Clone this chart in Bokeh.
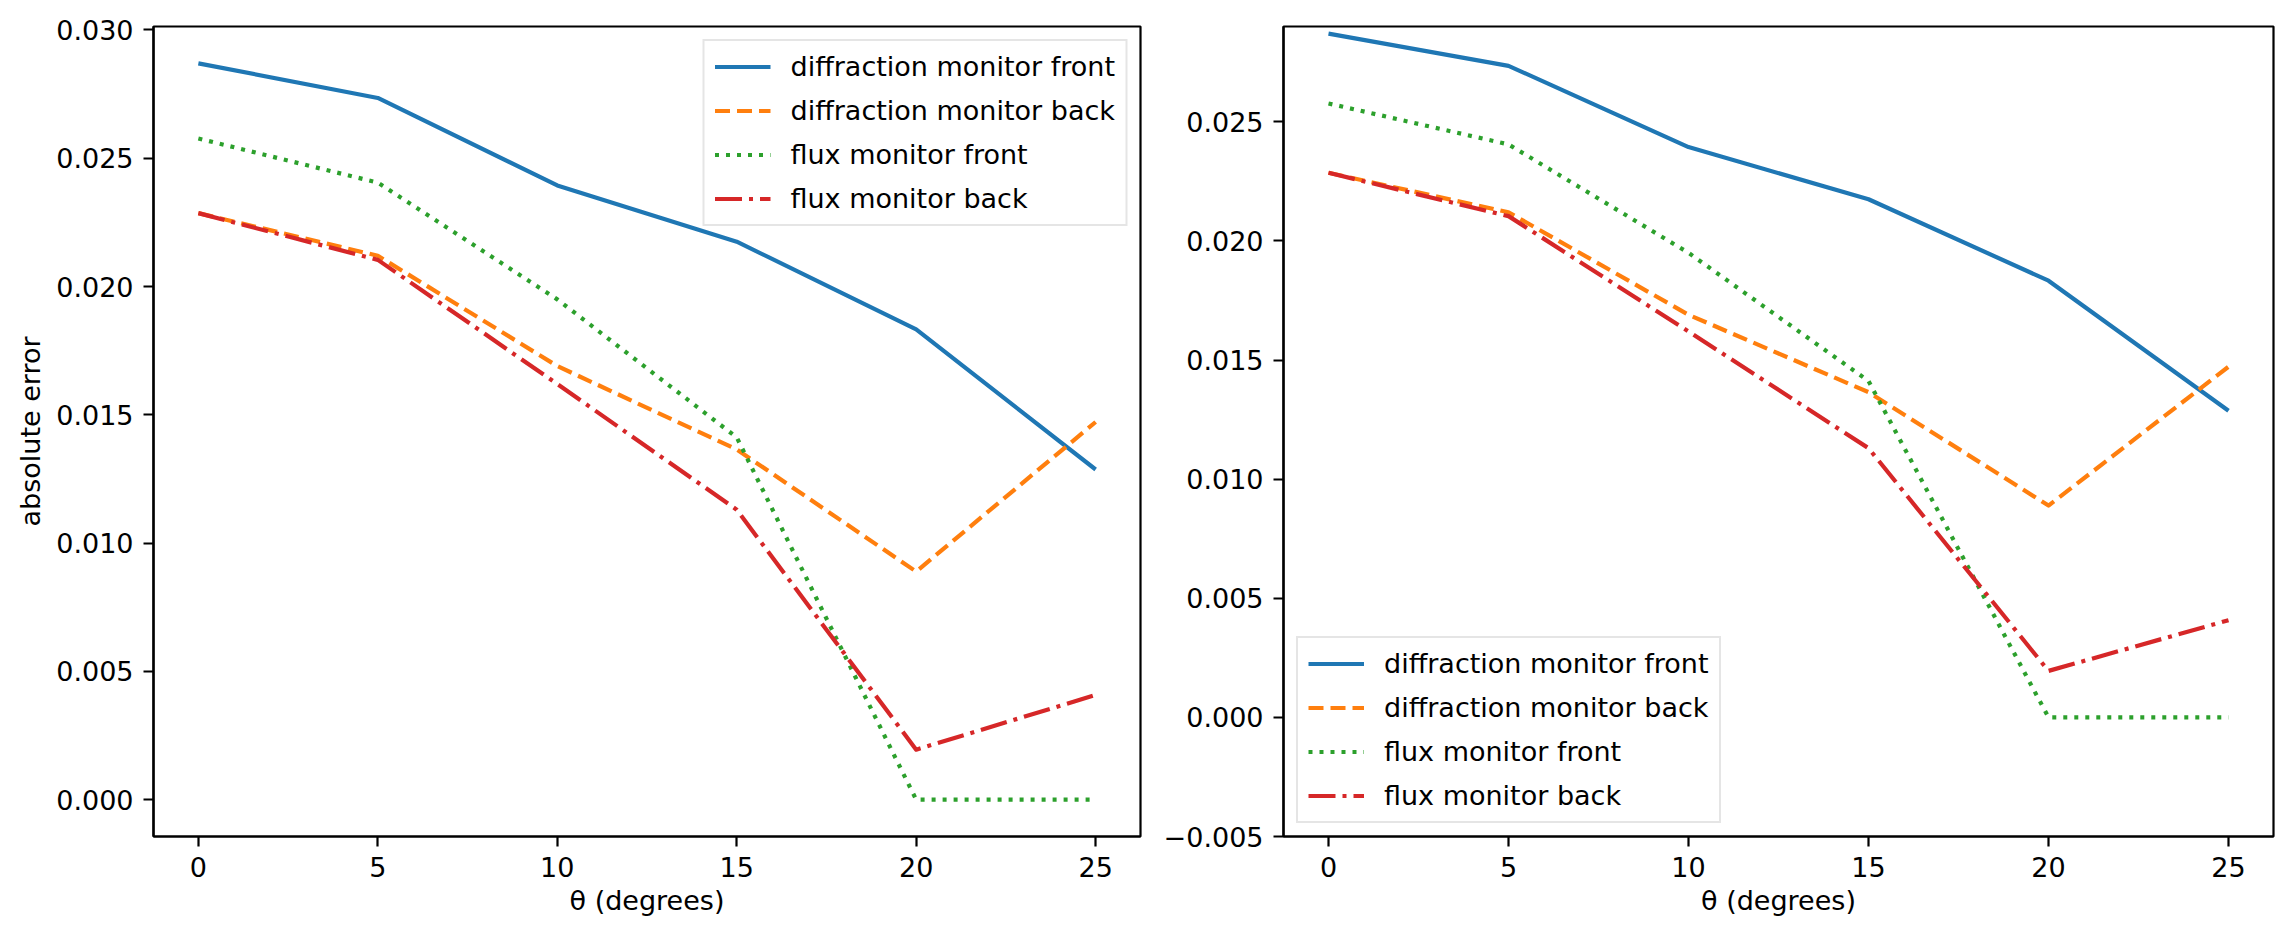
from bokeh.plotting import figure
from bokeh.layouts import row
from bokeh.models import Range1d, FixedTicker, CustomJSTickFormatter
from bokeh.embed import file_html
from bokeh.resources import INLINE

theta = [0, 5, 10, 15, 20, 25]
diff_front = [0.02870, 0.02735, 0.02394, 0.02175, 0.01833, 0.01287]
diff_back = [0.02286, 0.02120, 0.01690, 0.01365, 0.00889, 0.01472]
flux_front = [0.02577, 0.02405, 0.01950, 0.01412, 0.0, 0.0]
flux_back = [0.02286, 0.02104, 0.01620, 0.01130, 0.00195, 0.00408]

series_labels = ["diffraction monitor front", "diffraction monitor back",
                 "flux monitor front", "flux monitor back"]
x_ticks = [0, 5, 10, 15, 20, 25]
left_y_ticks = [0.000, 0.005, 0.010, 0.015, 0.020, 0.025, 0.030]
right_y_ticks = [-0.005, 0.000, 0.005, 0.010, 0.015, 0.020, 0.025]
x_label = "θ (degrees)"
y_label = "absolute error"

FONT = "DejaVu Sans"
FS = "27px"
colors = ["#1f77b4", "#ff7f0e", "#2ca02c", "#d62728"]
dashes = ["solid", "15 7", "4 7", "27 7 4 7"]

fmt_code = """
var t = Math.abs(tick) < 1e-12 ? 0 : tick;
return t.toFixed(3).replace('-', '\\u2212');
"""


def make_fig(yr, yticks, border_left, border_right, frame_w, legend_loc, ylab):
    p = figure(output_backend="svg", toolbar_location=None,
               frame_width=frame_w, frame_height=810,
               min_border_left=border_left, min_border_right=border_right,
               min_border_top=26, min_border_bottom=92,
               x_range=Range1d(-1.25, 26.25), y_range=yr,
               background_fill_color="white", border_fill_color="white")
    data = [diff_front, diff_back, flux_front, flux_back]
    for ys, c, d, lab in zip(data, colors, dashes, series_labels):
        p.line(theta, ys, line_color=c, line_width=4.2, line_dash=d,
               line_join="round", legend_label=lab)
    p.xgrid.visible = False
    p.ygrid.visible = False
    p.outline_line_color = "black"
    p.outline_line_width = 2.2
    p.xaxis.ticker = FixedTicker(ticks=x_ticks)
    p.yaxis.ticker = FixedTicker(ticks=yticks)
    p.yaxis.formatter = CustomJSTickFormatter(code=fmt_code)
    for ax in (p.xaxis, p.yaxis):
        ax.axis_line_width = 2.2
        ax.axis_line_color = "black"
        ax.major_tick_line_width = 2.2
        ax.major_tick_in = 0
        ax.major_tick_out = 10
        ax.minor_tick_out = 0
        ax.minor_tick_in = 0
        ax.major_label_standoff = 10
        ax.major_label_text_font = FONT
        ax.major_label_text_font_size = FS
        ax.major_label_text_color = "black"
        ax.axis_label_text_font = FONT
        ax.axis_label_text_font_size = FS
        ax.axis_label_text_font_style = "normal"
        ax.axis_label_text_color = "black"
    p.xaxis.axis_label = x_label
    p.xaxis.axis_label_standoff = 5
    if ylab:
        p.yaxis.axis_label = ylab
        p.yaxis.axis_label_standoff = 7
    lg = p.legend[0]
    lg.location = legend_loc
    lg.margin = 13
    lg.padding = 10
    lg.spacing = 13
    lg.glyph_width = 56
    lg.glyph_height = 27
    lg.label_height = 27
    lg.label_standoff = 20
    lg.label_text_font = FONT
    lg.label_text_font_size = FS
    lg.label_text_color = "black"
    lg.border_line_color = "#cccccc"
    lg.border_line_width = 2
    lg.background_fill_color = "white"
    lg.background_fill_alpha = 0.8
    return p


p1 = make_fig(Range1d(-0.001435, 0.030135), left_y_ticks, 153, 20, 987,
              "top_right", y_label)
p2 = make_fig(Range1d(-0.005, 0.029), right_y_ticks, 121, 9, 990,
              "bottom_left", None)

layout = row(p1, p2)
open("out.html", "w").write(file_html(layout, INLINE))
